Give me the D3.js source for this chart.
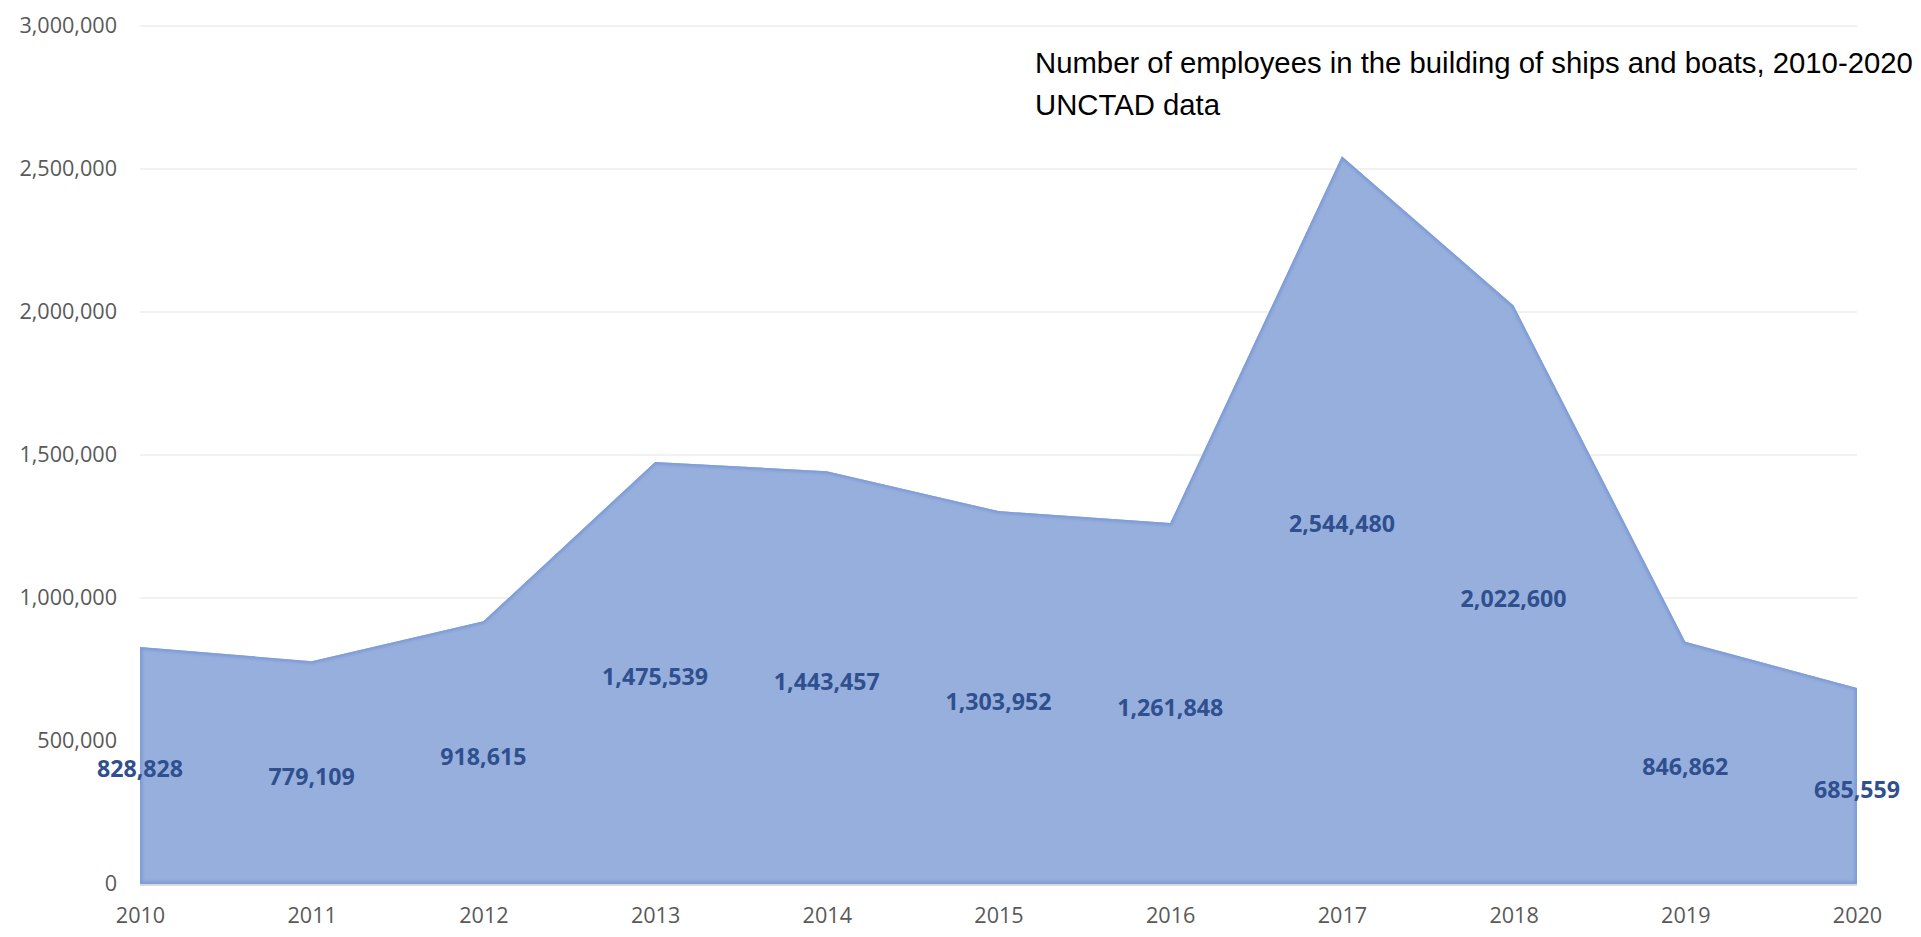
<!DOCTYPE html>
<html><head><meta charset="utf-8">
<script src="https://cdn.jsdelivr.net/npm/d3@7"></script>
<style>body{margin:0;background:#fff;}svg{display:block;}</style>
</head><body>
<svg id="c" width="1921" height="937"></svg>
<script>
const years = ["2010","2011","2012","2013","2014","2015","2016","2017","2018","2019","2020"];
const employees = [828828, 779109, 918615, 1475539, 1443457, 1303952, 1261848, 2544480, 2022600, 846862, 685559];
const yTicks = [0, 500000, 1000000, 1500000, 2000000, 2500000, 3000000];
const titleLines = ["Number of employees in the building of ships and boats, 2010-2020", "UNCTAD data"];

const svg = d3.select("#c");
const m = {left:140, right:1857, top:26, bottom:884};
const x = d3.scalePoint().domain(years).range([m.left, m.right]);
const y = d3.scaleLinear().domain([0, 3000000]).range([m.bottom, m.top]);
const fmt = d3.format(",");

const defs = svg.append("defs");
const blur = defs.append("filter").attr("id","soft").attr("x","-5%").attr("y","-5%").attr("width","110%").attr("height","110%");
blur.append("feGaussianBlur").attr("stdDeviation",1.5);
defs.append("clipPath").attr("id","clipA").append("path")
  .attr("d", d3.area().x((d,i)=>x(years[i])).y0(y(0)).y1(d=>y(d))(employees));

// gridlines
svg.append("g").selectAll("line").data(yTicks.filter(t=>t>0)).join("line")
  .attr("x1", m.left).attr("x2", m.right)
  .attr("y1", d=>y(d)).attr("y2", d=>y(d))
  .attr("stroke", "#EDEDED").attr("stroke-width", 1.5);

// area
const area = d3.area().x((d,i)=>x(years[i])).y0(y(0)).y1(d=>y(d));
svg.append("path").datum(employees).attr("d", area).attr("fill", "#97AFDD");
svg.append("g").attr("clip-path","url(#clipA)")
  .append("path").datum(employees).attr("d", area)
  .attr("fill","none").attr("stroke","#7D9BD5").attr("stroke-width",5).attr("filter","url(#soft)");

// x axis baseline
svg.append("line").attr("x1", m.left).attr("x2", m.right).attr("y1", y(0)+1).attr("y2", y(0)+1)
  .attr("stroke", "#D9D9D9").attr("stroke-width", 2);

// y axis labels
const yAxis = d3.axisLeft(y).tickValues(yTicks).tickFormat(fmt).tickSize(0).tickPadding(23);
const gy = svg.append("g").attr("transform", `translate(${m.left},0)`).call(yAxis);
gy.select(".domain").remove();
gy.selectAll("text").attr("font-family","'Open Sans', sans-serif").attr("font-size",21.6).attr("fill","#595959");

// x axis labels
const xAxis = d3.axisBottom(x).tickSize(0).tickPadding(24);
const gx = svg.append("g").attr("transform", `translate(0,${m.bottom})`).call(xAxis);
gx.select(".domain").remove();
gx.selectAll("text").attr("font-family","'Open Sans', sans-serif").attr("font-size",21.6).attr("fill","#595959");

// data labels (centered at half height)
svg.append("g").selectAll("text").data(employees).join("text")
  .attr("x", (d,i)=>x(years[i])).attr("y", d=>y(d/2)+3)
  .attr("text-anchor","middle").attr("dominant-baseline","central")
  .attr("font-family","'Open Sans', sans-serif").attr("font-weight","bold").attr("font-size",23.2)
  .attr("fill","#2F4F8F").text(d=>fmt(d));

// title
svg.append("g").selectAll("text").data(titleLines).join("text")
  .attr("x", 1035).attr("y", (d,i)=>73 + i*42)
  .attr("font-family","'Liberation Sans', Arial, sans-serif").attr("font-size",29.3).attr("fill","#000")
  .text(d=>d);
</script>
</body></html>
